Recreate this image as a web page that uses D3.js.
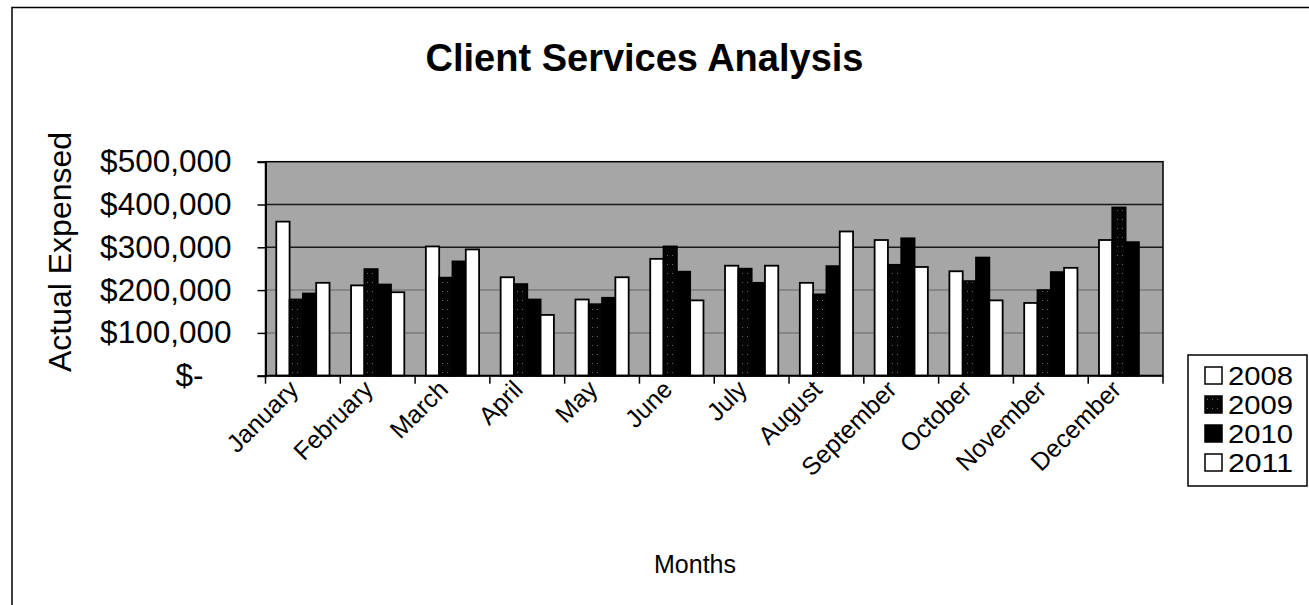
<!DOCTYPE html>
<html>
<head>
<meta charset="utf-8">
<script src="https://cdn.jsdelivr.net/npm/d3@7"></script>
<style>
  html, body { margin: 0; padding: 0; background: #fff; }
  svg { display: block; font-family: "Liberation Sans", Arial, sans-serif; }
</style>
</head>
<body>
<svg id="chart" width="1309" height="605"></svg>
<script>
const months = ["January","February","March","April","May","June","July","August","September","October","November","December"];
const years = ["2008","2009","2010","2011"];
const v2008 = [360000,211000,302000,230000,178000,273000,257000,217000,317000,244000,170000,317000];
const v2009 = [178000,249000,229000,214000,167000,302000,250000,190000,259000,221000,200000,393000];
const v2010 = [192000,213000,267000,178000,182000,243000,217000,256000,321000,276000,242000,312000];
const v2011 = [217000,195000,295000,142000,230000,176000,257000,337000,254000,176000,252000,null];
const yTicks = [0,100000,200000,300000,400000,500000];
const titleText = "Client Services Analysis";
const xTitle = "Months";
const yTitle = "Actual Expensed";

const seriesValues = [v2008, v2009, v2010, v2011];
const fills = ["#ffffff", "url(#dark)", "#000000", "#ffffff"];

const svg = d3.select("#chart");
const W = 1309, H = 605;
const plot = {left: 265.5, right: 1163, top: 161.7, bottom: 375.7};

const defs = svg.append("defs");
const pat = defs.append("pattern").attr("id","dark").attr("width",5).attr("height",9)
  .attr("patternUnits","userSpaceOnUse");
pat.append("rect").attr("width",5).attr("height",9).attr("fill","#050505");
pat.append("rect").attr("x",2).attr("y",3).attr("width",1).attr("height",1).attr("fill","#666");

svg.append("rect").attr("width",W).attr("height",H).attr("fill","#fff");
// outer chart border
svg.append("rect").attr("x",12).attr("y",7.5).attr("width",W+20).attr("height",H+20)
  .attr("fill","none").attr("stroke","#000").attr("stroke-width",1.5);

const x = d3.scaleBand().domain(months).range([plot.left, plot.right]).padding(0);
const xi = d3.scaleBand().domain(years).range([0, x.bandwidth()]).paddingInner(0).paddingOuter(0.81);
const y = d3.scaleLinear().domain([0, 500000]).range([plot.bottom, plot.top]);

// plot background
svg.append("rect").attr("x",plot.left).attr("y",plot.top)
  .attr("width",plot.right-plot.left).attr("height",plot.bottom-plot.top)
  .attr("fill","#a6a6a6");

// gridlines
svg.append("g").selectAll("line").data(yTicks.filter(v => v > 0 && v < 500000)).join("line")
  .attr("x1",plot.left).attr("x2",plot.right)
  .attr("y1",d => y(d)).attr("y2",d => y(d))
  .attr("stroke", d => d >= 300000 ? "#1a1a1a" : "#7a7a7a").attr("stroke-width",1.5);

// bars
const data = [];
months.forEach((m,i) => years.forEach((yr,j) => {
  const v = seriesValues[j][i];
  if (v != null) data.push({m, yr, v, j});
}));
svg.append("g").selectAll("rect").data(data).join("rect")
  .attr("x", d => x(d.m) + xi(d.yr))
  .attr("y", d => y(d.v))
  .attr("width", xi.bandwidth())
  .attr("height", d => y(0) - y(d.v))
  .attr("fill", d => fills[d.j])
  .attr("stroke","#000").attr("stroke-width",1.8);

// plot border
svg.append("rect").attr("x",plot.left).attr("y",plot.top)
  .attr("width",plot.right-plot.left).attr("height",plot.bottom-plot.top)
  .attr("fill","none").attr("stroke","#000").attr("stroke-width",1.5);

// y axis
const yAxis = d3.axisLeft(y).tickValues(yTicks).tickSize(8).tickPadding(26)
  .tickFormat(v => v === 0 ? "$-" : "$" + d3.format(",")(v));
const gy = svg.append("g").attr("transform",`translate(${plot.left},0)`).call(yAxis);
gy.select(".domain").attr("stroke","#000").attr("stroke-width",2);
gy.selectAll(".tick line").attr("stroke","#000").attr("stroke-width",1.5);
gy.selectAll(".tick text").attr("font-size",31.5).attr("fill","#000")
  .attr("font-family","'Liberation Sans', Arial, sans-serif")
  .attr("dx", d => d === 0 ? -28 : 0);

// x axis line and ticks at category boundaries
svg.append("line").attr("x1",plot.left).attr("x2",plot.right)
  .attr("y1",plot.bottom).attr("y2",plot.bottom).attr("stroke","#000").attr("stroke-width",2);
const bounds = months.map(m => x(m)).concat([plot.right]);
svg.append("g").selectAll("line").data(bounds).join("line")
  .attr("x1",d => d).attr("x2",d => d).attr("y1",plot.bottom).attr("y2",plot.bottom+8)
  .attr("stroke","#000").attr("stroke-width",1.5);
svg.append("g").selectAll("text").data(months).join("text")
  .attr("transform", m => `translate(${x(m) + x.bandwidth()/2 - 3},391) rotate(-45)`)
  .attr("text-anchor","end").attr("font-size",25).attr("fill","#000")
  .text(m => m);

// titles
svg.append("text").attr("x",644.5).attr("y",71).attr("text-anchor","middle")
  .attr("font-size",38).attr("font-weight","bold").text(titleText);
svg.append("text").attr("x",695).attr("y",573).attr("text-anchor","middle")
  .attr("font-size",25).text(xTitle);
svg.append("text").attr("transform","translate(71,252) rotate(-90)").attr("text-anchor","middle")
  .attr("font-size",32).text(yTitle);

// legend
const lg = svg.append("g");
lg.append("rect").attr("x",1188).attr("y",355).attr("width",119).attr("height",131)
  .attr("fill","#fff").attr("stroke","#000").attr("stroke-width",1.5);
const ly = d3.scalePoint().domain(years).range([375, 462]);
years.forEach((yr,j) => {
  lg.append("rect").attr("x",1205).attr("y",ly(yr)-8).attr("width",17).attr("height",17)
    .attr("fill",fills[j]).attr("stroke","#000").attr("stroke-width",1.5);
  lg.append("text").attr("x",1228).attr("y",ly(yr)+9.5).attr("font-size",26)
    .attr("textLength",65).attr("lengthAdjust","spacingAndGlyphs").text(yr);
});
</script>
</body>
</html>
